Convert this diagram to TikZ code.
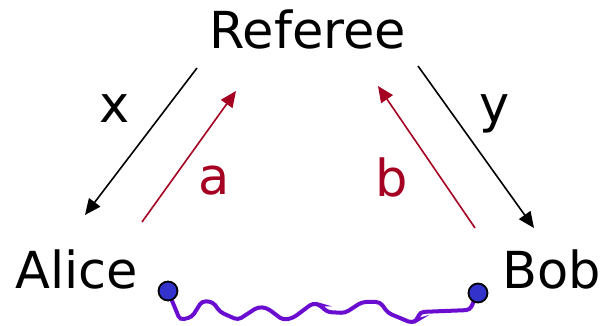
\documentclass[tikz,border=0pt]{standalone}
\usepackage{fontspec}
\setmainfont{DejaVu Sans}
\usetikzlibrary{arrows.meta,backgrounds}
\definecolor{Msg}{HTML}{A50021}
\definecolor{Wire}{HTML}{6A0DD0}
\definecolor{Qubit}{HTML}{3333CC}
\tikzset{player/.style={font=\fontsize{25.5}{30}\selectfont,inner sep=0pt,anchor=base},
  bitlabel/.style={player},
  ask/.style={-{Triangle[length=8pt,width=7pt]},line width=0.8pt,draw=black},
  answer/.style={ask,draw=Msg},
  qubit/.style={circle,draw=black,fill=Qubit,line width=0.9pt,minimum size=9.5pt,inner sep=0pt},
  link/.style={draw=Wire,line width=2pt,rounded corners=2pt}}

\begin{document}
\begin{tikzpicture}[x=0.5pt,y=-0.5pt]
    \useasboundingbox (0,0) rectangle (606,326);
    \node[player] (ref) at (308,49) {Referee};
    \node[player] (alice) at (77,288) {Alice};
    \node[player] (bob) at (552,289) {Bob};
    \node[bitlabel] (lx) at (115,123) {x};
    \node[bitlabel,text=Msg] (la) at (214,195) {a};
    \node[bitlabel,text=Msg] (lb) at (392,197) {b};
    \node[bitlabel] (ly) at (495,123) {y};
    % questions and answers
    \coordinate (xs) at (197,68);  \coordinate (xe) at (85,215);
    \coordinate (ys) at (418,66);  \coordinate (ye) at (534,228);
    \coordinate (as) at (142,222); \coordinate (ae) at (236,91);
    \coordinate (bs) at (475,228); \coordinate (be) at (378,86);
    \draw[ask] (xs)--(xe);
    \draw[ask] (ys)--(ye);
    \draw[answer] (as)--(ae);
    \draw[answer] (bs)--(be);
    % shared entanglement
    \node[qubit] (qa) at (168,291) {};
    \node[qubit] (qb) at (478,293) {};
    \begin{scope}[on background layer]
    \draw[link] (qa.center) -- (180,320) -- (192,317) -- (202,301) -- (213,302)
      -- (220,312) -- (238,320) -- (258,307) -- (267,308) -- (283,320)
      -- (293,318) -- (313,303) -- (320,305) -- (327,312) -- (345,313)
      -- (362,302) -- (380,302) -- (388,313) -- (412,323) -- (417,320)
      -- (420,312) -- (470,310) -- (473,303) -- (qb.center);
    \end{scope}
\end{tikzpicture}
\end{document}
